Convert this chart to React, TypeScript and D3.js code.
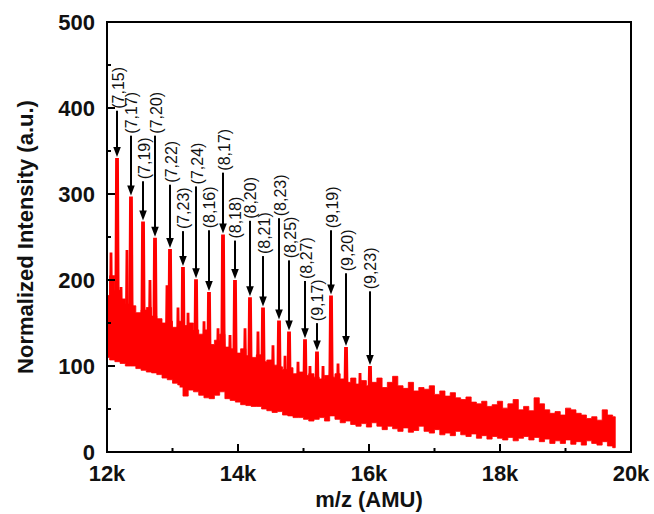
import React from "react";
import * as d3 from "d3";

// ---- data ----
const bandMz = [
  12000, 12080, 12160, 12240, 12320, 12400, 12480, 12560, 12640, 12720, 12800, 12880, 12960, 13040, 13120, 13200,
  13280, 13360, 13440, 13520, 13600, 13680, 13760, 13840, 13920, 14000, 14080, 14160, 14240, 14320, 14400, 14480,
  14560, 14640, 14720, 14800, 14880, 14960, 15040, 15120, 15200, 15280, 15360, 15440, 15520, 15600, 15680, 15760,
  15840, 15920, 16000, 16080, 16160, 16240, 16320, 16400, 16480, 16560, 16640, 16720, 16800, 16880, 16960, 17040,
  17120, 17200, 17280, 17360, 17440, 17520, 17600, 17680, 17760, 17840, 17920, 18000, 18080, 18160, 18240, 18320,
  18400, 18480, 18560, 18640, 18720, 18800, 18880, 18960, 19040, 19120, 19200, 19280, 19360, 19440, 19520, 19600,
  19680, 19760,
];
const bandUpper = [
  182, 205, 188, 178, 172, 170, 162, 165, 168, 158, 155, 150, 152, 145, 152, 147,
  150, 142, 137, 142, 125, 130, 137, 122, 120, 115, 120, 112, 110, 113, 105, 107,
  101, 99, 96, 98, 91, 93, 89, 91, 87, 85, 89, 87, 91, 85, 81, 86,
  79, 83, 77, 81, 86, 75, 81, 88, 77, 74, 81, 71, 75, 73, 77, 67,
  71, 65, 69, 63, 61, 64, 58, 56, 59, 53, 55, 59, 51, 56, 61, 49,
  53, 48, 63, 56, 49, 45, 47, 43, 51, 49, 45, 43, 39, 41, 37, 49,
  43, 41,
];
const bandLower = [
  110, 107, 105, 103, 100, 100, 97, 95, 93, 92, 90, 86, 84, 80, 78, 65,
  72, 70, 66, 63, 62, 66, 70, 62, 60, 58, 55, 54, 53, 53, 50, 48,
  46, 47, 43, 42, 40, 40, 38, 36, 38, 40, 36, 42, 38, 34, 36, 32,
  30, 33, 29, 34, 30, 26, 30, 27, 24, 28, 23, 25, 30, 24, 22, 26,
  20, 22, 19, 24, 20, 18, 21, 16, 19, 15, 18, 16, 14, 17, 13, 16,
  18, 14, 17, 12, 15, 10, 13, 10, 14, 9, 12, 8, 13, 10, 8, 12,
  7, 5,
];

// unlabeled satellite spikes
const minorMz = [12061, 12214, 12305, 12656, 12916, 13084, 13237, 13481, 13695, 13878, 14107, 14305, 14534, 14718, 14916, 15099, 15298, 15527, 15863];
const minorHeight = [232, 192, 235, 200, 194, 168, 162, 152, 144, 136, 144, 140, 124, 112, 105, 100, 100, 103, 92];

// labelled cluster peaks
const peakLabels = ["(7,15)", "(7,17)", "(7,19)", "(7,20)", "(7,22)", "(7,23)", "(7,24)", "(8,16)", "(8,17)", "(8,18)", "(8,20)", "(8,21)", "(8,23)", "(8,25)", "(8,27)", "(9,17)", "(9,19)", "(9,20)", "(9,23)"];
const peakMz = [12153, 12366, 12550, 12733, 12962, 13160, 13359, 13557, 13771, 13954, 14183, 14382, 14626, 14779, 15023, 15206, 15420, 15649, 16015];
const peakHeight = [342, 297, 268, 249, 236, 215, 201, 186, 253, 200, 180, 168, 153, 140, 131, 117, 182, 122, 100];
const labelLevel = [398, 369, 316, 369, 312, 258, 310, 259, 326, 247, 270, 229, 273, 224, 200, 151, 259, 209, 188];

const xTicks = [12000, 14000, 16000, 18000, 20000];
const xTickLabels = ["12k", "14k", "16k", "18k", "20k"];
const xMinor = [13000, 15000, 17000, 19000];
const yTicks = [0, 100, 200, 300, 400, 500];
const yMinor = [50, 150, 250, 350, 450];

const FONT = "'Liberation Sans', Arial, Helvetica, sans-serif";

export default function App() {
  const x = d3.scaleLinear().domain([12000, 20000]).range([107, 631]);
  const y = d3.scaleLinear().domain([0, 500]).range([452, 22]);

  const band = bandMz.map((m, i) => ({ m, hi: bandUpper[i], lo: bandLower[i] }));
  const area = d3
    .area<{ m: number; hi: number; lo: number }>()
    .x((d) => x(d.m))
    .y0((d) => y(d.lo))
    .y1((d) => y(d.hi))
    .curve(d3.curveStep);

  const bis = d3.bisector((d: number) => d).center;
  const baseAt = (m: number) => bandLower[bis(bandMz, m)] + 10;

  const spike = (m: number, h: number, topW: number, baseW: number) => {
    const cx = x(m);
    const yt = y(h);
    const yb = y(baseAt(m));
    const mid = y(baseAt(m) + (h - baseAt(m)) * 0.35);
    return `M${cx - topW},${yt}L${cx + topW},${yt}L${cx + topW + 0.6},${mid}L${cx + baseW},${yb}L${cx - baseW},${yb}L${cx - topW - 0.6},${mid}Z`;
  };

  const red = "#ff0000";

  return (
    <svg
      width={654}
      height={514}
      style={{ position: "absolute", left: 0, top: 0, background: "#fff" }}
      fontFamily={FONT}
    >
      <rect x={0} y={0} width={654} height={514} fill="#fff" />
      {/* spectrum band */}
      <path d={area(band) || ""} fill={red} stroke={red} strokeWidth={0.8} />
      {minorMz.map((m, i) => (
        <path key={"mn" + i} d={spike(m, minorHeight[i], 1.4, 2.8)} fill={red} />
      ))}
      {peakMz.map((m, i) => (
        <path key={"pk" + i} d={spike(m, peakHeight[i], 1.9, 3.4)} fill={red} />
      ))}

      {/* annotations */}
      {peakMz.map((m, i) => {
        const cx = x(m);
        const ys = y(labelLevel[i]);
        const tip = y(peakHeight[i]) - 1;
        return (
          <g key={"an" + i}>
            <line x1={cx} x2={cx} y1={ys + 1} y2={tip - 8} stroke="#000" strokeWidth={2} />
            <path d={`M${cx - 3.8},${tip - 10}L${cx + 3.8},${tip - 10}L${cx},${tip}Z`} fill="#000" />
            <text
              transform={`translate(${cx + 1},${ys - 1}) rotate(-90)`}
              fontSize={16}
              fill="#111"
              dominantBaseline="central"
              textAnchor="start"
            >
              {peakLabels[i]}
            </text>
          </g>
        );
      })}

      {/* frame */}
      <rect x={107} y={22} width={524} height={430} fill="none" stroke="#000" strokeWidth={2} />

      {/* x ticks */}
      {xTicks.map((t, i) => (
        <g key={"xt" + i}>
          <line x1={x(t)} x2={x(t)} y1={452} y2={444} stroke="#000" strokeWidth={2} />
          <text x={x(t)} y={481} fontSize={22} fontWeight="bold" textAnchor="middle" fill="#111">
            {xTickLabels[i]}
          </text>
        </g>
      ))}
      {xMinor.map((t, i) => (
        <line key={"xm" + i} x1={x(t)} x2={x(t)} y1={452} y2={448} stroke="#000" strokeWidth={2} />
      ))}

      {/* y ticks */}
      {yTicks.map((t) => (
        <g key={"yt" + t}>
          <line x1={107} x2={115} y1={y(t)} y2={y(t)} stroke="#000" strokeWidth={2} />
          <text x={95} y={y(t)} fontSize={22} fontWeight="bold" textAnchor="end" dominantBaseline="central" fill="#111">
            {t}
          </text>
        </g>
      ))}
      {yMinor.map((t) => (
        <line key={"ym" + t} x1={107} x2={111} y1={y(t)} y2={y(t)} stroke="#000" strokeWidth={2} />
      ))}

      {/* axis titles */}
      <text x={369} y={507} fontSize={22} fontWeight="bold" textAnchor="middle" fill="#111">
        m/z (AMU)
      </text>
      <text
        transform={`translate(25,237) rotate(-90)`}
        fontSize={22}
        fontWeight="bold"
        textAnchor="middle"
        dominantBaseline="central"
        fill="#111"
      >
        Normalized Intensity (a.u.)
      </text>
    </svg>
  );
}
